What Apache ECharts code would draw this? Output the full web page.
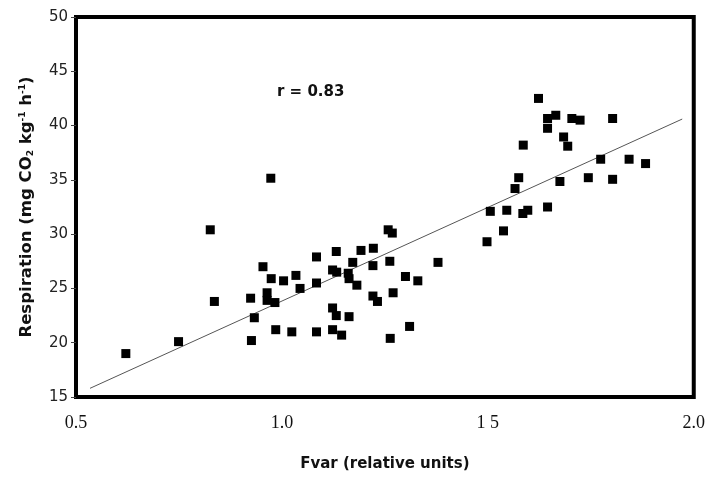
<!DOCTYPE html>
<html>
<head>
<meta charset="utf-8">
<script src="https://cdn.jsdelivr.net/npm/echarts@6/dist/echarts.min.js"></script>
<style>
  html, body { margin: 0; padding: 0; background: #fff; }
  #chart { width: 708px; height: 477px; }
</style>
</head>
<body>
<div id="chart"></div>
<script>
// measured points, Fvar vs respiration
var fvar = [0.621, 0.749, 0.826, 0.836, 0.924, 0.933, 0.926, 0.973, 0.954, 0.974,
            1.004, 1.034, 1.084, 1.132, 1.192, 1.222, 0.964, 0.964, 0.983, 1.044,
            1.084, 1.123, 1.133, 1.172, 1.161, 1.163, 1.182, 1.221, 1.262, 1.379,
            1.300, 1.330, 1.221, 1.232, 1.270, 1.123, 1.132, 1.163, 0.985, 1.024,
            1.084, 1.123, 1.145, 1.310, 1.263, 1.258, 1.268, 1.498, 1.538, 1.506,
            1.546, 1.585, 1.597, 1.645, 1.566, 1.575, 1.675, 1.744, 1.803, 1.774,
            1.843, 1.883, 1.586, 1.694, 1.684, 1.645, 1.645, 1.665, 1.704, 1.724,
            1.803, 1.623];
var resp = [19.0, 20.1, 30.4, 23.8, 24.1, 22.3, 20.2, 35.15, 27.0, 25.9,
            25.7, 26.2, 27.9, 28.4, 28.5, 28.7, 24.6, 23.9, 23.7, 25.0,
            25.5, 26.7, 26.5, 27.4, 26.4, 25.9, 25.3, 27.1, 27.5, 27.4,
            26.1, 25.7, 24.3, 23.8, 24.6, 23.2, 22.5, 22.4, 21.2, 21.0,
            21.0, 21.2, 20.7, 21.5, 20.4, 30.4, 30.1, 29.3, 30.3, 32.1,
            32.2, 31.9, 32.2, 32.5, 34.2, 35.2, 34.85, 35.2, 35.05, 36.9,
            36.9, 36.5, 38.2, 38.1, 38.95, 39.75, 40.65, 40.95, 40.65, 40.5,
            40.65, 42.5];
// regression line end points
var fitX = [0.534, 1.972];
var fitY = [15.8, 40.6];
var xTickLabels = {'0.5': '0.5', '1': '1.0', '1.5': '1 5', '2': '2.0'};
var rText = 'r = 0.83';

var points = fvar.map(function (v, i) { return [v, resp[i]]; });
var fitLine = fitX.map(function (v, i) { return [v, fitY[i]]; });

var chart = echarts.init(document.getElementById('chart'));
chart.setOption({
  animation: false,
  grid: {
    left: 76, right: 11, top: 17, bottom: 68,
    show: true, borderColor: '#000', borderWidth: 4
  },
  xAxis: {
    type: 'value', min: 0.5, max: 2.0, interval: 0.5,
    axisLine: { show: false },
    axisTick: { show: false },
    splitLine: { show: false },
    axisLabel: {
      margin: 17,
      fontFamily: 'Liberation Serif', fontSize: 18, color: '#111',
      formatter: function (v) { return xTickLabels[String(v)] || ''; }
    },
    name: 'Fvar (relative units)',
    nameLocation: 'middle', nameGap: 60,
    nameTextStyle: { fontFamily: 'DejaVu Sans', fontWeight: 'bold', fontSize: 15, color: '#111' }
  },
  yAxis: {
    type: 'value', min: 15, max: 50, interval: 5,
    axisLine: { show: false },
    axisTick: { show: true, length: 5, lineStyle: { color: '#444', width: 1 } },
    splitLine: { show: false },
    axisLabel: { margin: 8, fontFamily: 'DejaVu Sans', fontSize: 15, color: '#222' },
    name: 'Respiration (mg CO{sub|2} kg{sup|-1} h{sup|-1})',
    nameLocation: 'middle', nameGap: 41, nameRotate: 90,
    nameTextStyle: {
      fontFamily: 'DejaVu Sans', fontWeight: 'bold', fontSize: 16.5, color: '#111',
      rich: {
        sub: { fontFamily: 'DejaVu Sans', fontWeight: 'bold', fontSize: 9, color: '#111', verticalAlign: 'bottom', padding: [6, 0, 0, 0] },
        sup: { fontFamily: 'DejaVu Sans', fontWeight: 'bold', fontSize: 9, color: '#111', verticalAlign: 'top', padding: [0, 0, 6, 0] }
      }
    }
  },
  graphic: [{
    type: 'text', left: 277, top: 85,
    style: { text: rText, font: 'bold 15px "DejaVu Sans"', fill: '#111' }
  }],
  series: [{
    type: 'line',
    data: fitLine,
    symbol: 'none',
    lineStyle: { color: '#555', width: 1 },
    z: 1
  }, {
    type: 'scatter',
    data: points,
    symbol: 'rect',
    symbolSize: 9,
    itemStyle: { color: '#000', opacity: 1 },
    z: 2
  }]
});
</script>
</body>
</html>
